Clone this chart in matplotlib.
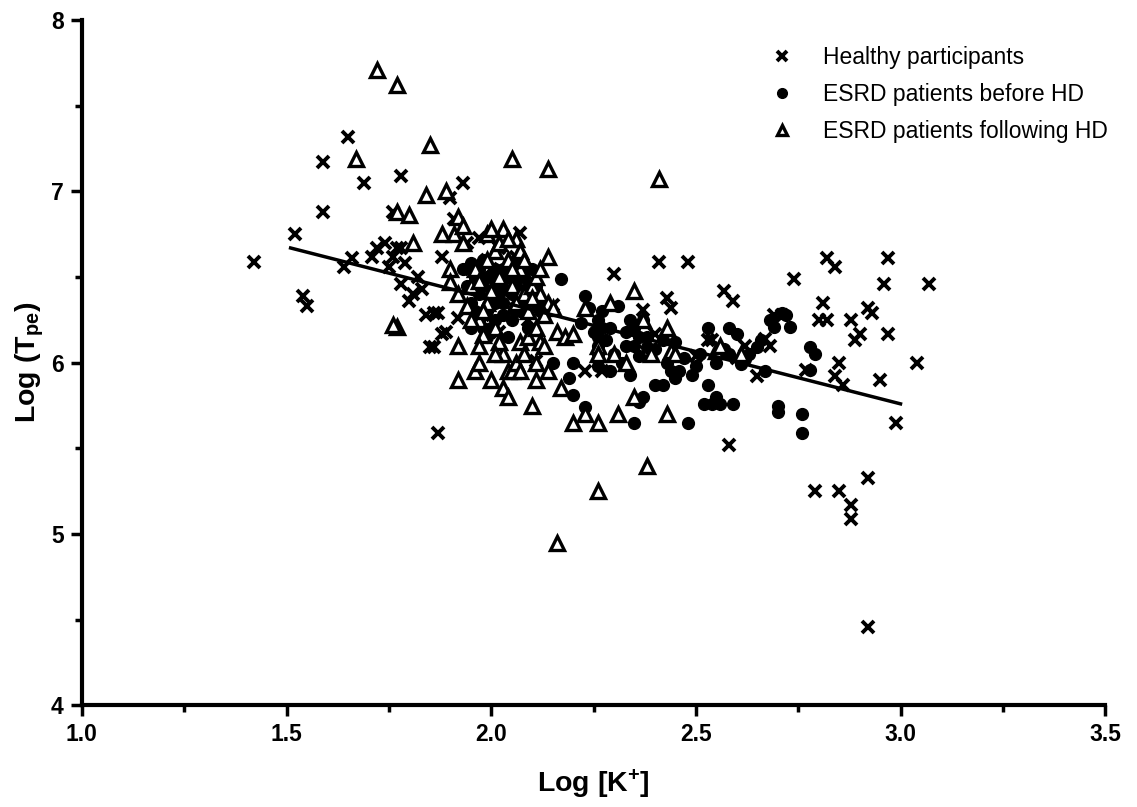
import numpy as np
import matplotlib
matplotlib.use("Agg")
import matplotlib.pyplot as plt

plt.rcParams['font.family'] = ['Liberation Sans', 'DejaVu Sans']
plt.rcParams['mathtext.fontset'] = 'custom'
plt.rcParams['mathtext.bf'] = 'Liberation Sans:bold'
plt.rcParams['mathtext.rm'] = 'Liberation Sans'
plt.rcParams['mathtext.default'] = 'bf'

# healthy participants (x markers)
healthy_x = [1.42, 1.52, 1.54, 1.55, 1.59, 1.59, 1.64, 1.65, 1.66, 1.69, 1.71, 1.74,
             1.75, 1.76, 1.76, 1.77, 1.78, 1.78, 1.78, 1.80, 1.81, 1.82, 1.83, 1.85,
             1.86, 1.86, 1.87, 1.87, 1.88, 1.89, 1.90, 1.91, 1.92, 1.93, 1.94, 1.95,
             1.97, 1.99, 2.00, 2.02, 2.05, 2.06, 2.07, 2.08, 2.10, 2.11, 2.13, 2.15,
             2.23, 2.26, 2.27, 2.30, 2.35, 2.37, 2.40, 2.41, 2.43, 2.44, 2.48, 2.50,
             2.53, 2.54, 2.57, 2.58, 2.59, 2.60, 2.62, 2.65, 2.67, 2.68, 2.69, 2.71,
             2.74, 2.77, 2.79, 2.80, 2.81, 2.82, 2.82, 2.84, 2.84, 2.85, 2.85, 2.86,
             2.88, 2.88, 2.88, 2.89, 2.90, 2.92, 2.92, 2.92, 2.93, 2.95, 2.96, 2.97,
             2.97, 2.99, 3.04, 3.07, 1.72, 1.79, 1.84, 1.88, 1.96, 2.00, 2.03, 2.05,
             1.98, 2.09, 2.02]
healthy_y = [6.59, 6.75, 6.39, 6.33, 7.17, 6.88, 6.56, 7.32, 6.61, 7.05, 6.62, 6.70,
             6.56, 6.62, 6.88, 6.67, 7.09, 6.67, 6.46, 6.36, 6.40, 6.50, 6.43, 6.09,
             6.09, 6.29, 5.59, 6.29, 6.17, 6.18, 6.96, 6.84, 6.26, 7.05, 6.70, 6.55,
             6.73, 6.60, 6.40, 6.67, 6.30, 6.62, 6.76, 6.55, 6.20, 6.01, 6.35, 6.34,
             5.95, 6.18, 5.95, 6.52, 6.21, 6.31, 6.17, 6.59, 6.38, 6.32, 6.59, 6.04,
             6.13, 6.13, 6.42, 5.52, 6.36, 6.03, 6.10, 5.92, 6.14, 6.10, 6.28, 6.28,
             6.49, 5.96, 5.25, 6.25, 6.35, 6.61, 6.25, 6.56, 5.92, 6.00, 5.25, 5.87,
             6.25, 5.17, 5.09, 6.13, 6.17, 6.32, 5.33, 4.46, 6.29, 5.90, 6.46, 6.61,
             6.17, 5.65, 6.00, 6.46, 6.67, 6.58, 6.28, 6.62, 6.45, 6.55, 6.42, 6.50,
             6.28, 6.25, 6.18]

# ESRD patients before HD (filled circles)
before_x = [1.93, 1.94, 1.95, 1.96, 1.97, 1.97, 1.98, 1.99, 2.00, 2.00, 2.01, 2.02,
            2.03, 2.03, 2.04, 2.05, 2.06, 2.07, 2.08, 2.09, 2.10, 2.11, 2.12, 2.13,
            2.15, 2.17, 2.19, 2.20, 2.20, 2.22, 2.23, 2.23, 2.24, 2.25, 2.26, 2.26,
            2.27, 2.28, 2.29, 2.29, 2.30, 2.31, 2.32, 2.33, 2.33, 2.34, 2.35, 2.35,
            2.36, 2.36, 2.37, 2.37, 2.38, 2.38, 2.40, 2.40, 2.42, 2.42, 2.43, 2.44,
            2.45, 2.45, 2.46, 2.47, 2.48, 2.49, 2.50, 2.51, 2.52, 2.53, 2.53, 2.54,
            2.55, 2.55, 2.56, 2.57, 2.58, 2.58, 2.59, 2.60, 2.61, 2.62, 2.63, 2.65,
            2.66, 2.67, 2.68, 2.69, 2.70, 2.70, 2.71, 2.72, 2.73, 2.76, 2.76, 2.78,
            2.78, 2.79, 1.95, 1.96, 1.97, 1.98, 1.98, 1.99, 2.00, 2.01, 2.01, 2.02,
            2.03, 2.04, 2.05, 2.06, 2.07, 2.08, 2.09, 2.11, 1.95, 1.99, 2.26, 2.26,
            2.26, 2.27, 2.35, 2.36, 2.34]
before_y = [6.55, 6.45, 6.35, 6.50, 6.40, 6.25, 6.60, 6.30, 6.50, 6.20, 6.35, 6.45,
            6.55, 6.28, 6.15, 6.40, 6.60, 6.30, 6.50, 6.20, 6.55, 6.45, 6.30, 6.28,
            6.00, 6.49, 5.91, 5.81, 6.00, 6.23, 6.39, 5.74, 6.32, 6.18, 6.10, 6.05,
            6.30, 6.13, 5.95, 6.20, 6.05, 6.33, 6.00, 6.18, 6.10, 5.93, 6.20, 5.65,
            6.04, 5.77, 6.25, 5.80, 6.15, 6.09, 5.87, 6.08, 5.87, 6.13, 6.00, 5.95,
            6.12, 5.91, 5.95, 6.03, 5.65, 5.93, 5.98, 6.05, 5.76, 5.87, 6.20, 5.76,
            6.00, 5.80, 5.76, 6.08, 6.20, 6.05, 5.76, 6.17, 5.99, 6.02, 6.05, 6.09,
            6.13, 5.95, 6.25, 6.21, 5.75, 5.71, 6.29, 6.28, 6.21, 5.70, 5.59, 6.09,
            5.96, 6.05, 6.58, 6.30, 6.55, 6.45, 6.20, 6.50, 6.35, 6.55, 6.25, 6.40,
            6.35, 6.50, 6.25, 6.45, 6.50, 6.35, 6.45, 6.35, 6.20, 6.15, 6.25, 6.15,
            5.98, 6.20, 6.10, 6.15, 6.25]

# ESRD patients following HD (open triangles)
after_x = [1.72, 1.77, 1.67, 1.85, 2.05, 2.14, 2.41, 1.84, 1.89, 1.77, 1.80, 1.92,
           1.91, 1.88, 1.81, 1.77, 1.76, 1.93, 1.90, 1.90, 1.92, 1.94, 1.96, 1.97,
           1.98, 1.99, 2.00, 2.01, 2.02, 2.03, 2.04, 2.05, 2.06, 2.07, 2.07, 2.07,
           2.08, 2.09, 2.10, 2.11, 2.12, 2.14, 2.14, 2.15, 2.16, 2.18, 1.92, 1.92,
           1.96, 1.97, 2.00, 2.03, 2.03, 2.04, 2.05, 2.06, 2.07, 2.04, 2.10, 2.11,
           2.11, 2.17, 2.20, 2.20, 2.23, 2.23, 2.26, 2.26, 2.26, 2.16, 2.29, 2.30,
           2.31, 2.33, 2.35, 2.35, 2.37, 2.38, 2.39, 2.43, 2.43, 2.44, 2.45, 2.55,
           2.56, 2.61, 2.26, 1.95, 1.95, 1.97, 1.99, 2.01, 2.02, 2.07, 2.09, 2.11,
           2.12, 2.13, 1.93, 1.97, 1.99, 2.00, 2.02, 2.04, 2.05, 2.06, 2.08, 2.10,
           2.12, 1.98, 2.01, 2.08, 2.13, 2.14]
after_y = [7.71, 7.62, 7.19, 7.27, 7.19, 7.13, 7.07, 6.98, 7.00, 6.88, 6.86, 6.85,
           6.75, 6.75, 6.70, 6.21, 6.22, 6.70, 6.55, 6.47, 6.40, 6.33, 6.55, 6.25,
           6.16, 6.75, 6.78, 6.65, 6.50, 6.78, 6.60, 6.45, 6.72, 6.65, 6.55, 6.40,
           6.40, 6.30, 6.45, 6.50, 6.40, 6.62, 6.35, 6.32, 6.18, 6.15, 6.10, 5.90,
           5.95, 6.00, 5.90, 6.05, 5.85, 5.95, 5.95, 6.00, 5.95, 5.80, 5.75, 5.90,
           6.00, 5.85, 6.17, 5.65, 6.32, 5.70, 5.65, 6.10, 5.25, 4.95, 6.35, 6.05,
           5.70, 6.00, 6.42, 5.80, 6.25, 5.40, 6.05, 6.20, 5.70, 6.07, 6.05, 6.07,
           6.10, 6.05, 6.05, 6.45, 6.25, 6.10, 6.35, 6.20, 6.12, 6.12, 6.15, 6.20,
           6.12, 6.28, 6.80, 6.48, 6.60, 6.42, 6.70, 6.72, 6.55, 6.35, 6.60, 6.38,
           6.55, 6.30, 6.05, 6.05, 6.10, 5.95]

# regression line end points
fit_x = [1.51, 3.0]
fit_y = [6.67, 5.76]

fig = plt.figure(figsize=(11.37, 8.07), dpi=100)
ax = fig.add_axes([0.072, 0.126, 0.9, 0.849])

ax.plot(healthy_x, healthy_y, linestyle='none', marker='x', markersize=8,
        markeredgewidth=2.8, color='black', label='Healthy participants')
ax.plot(before_x, before_y, linestyle='none', marker='o', markersize=8.5,
        color='black', label='ESRD patients before HD')
ax.plot(after_x, after_y, linestyle='none', marker='^', markersize=10,
        markerfacecolor='white', markeredgecolor='black', markeredgewidth=2.4,
        label='ESRD patients following HD')
ax.plot(fit_x, fit_y, color='black', linewidth=2.5)

ax.set_xlim(1.0, 3.5)
ax.set_ylim(4, 8)
ax.set_xticks([1.0, 1.5, 2.0, 2.5, 3.0, 3.5])
ax.set_xticklabels(['1.0', '1.5', '2.0', '2.5', '3.0', '3.5'])
ax.set_xticks(np.arange(1.25, 3.5, 0.5), minor=True)
ax.set_yticks([4, 5, 6, 7, 8])
ax.set_yticks([4.5, 5.5, 6.5, 7.5], minor=True)

for side in ['top', 'right']:
    ax.spines[side].set_visible(False)
for side in ['left', 'bottom']:
    ax.spines[side].set_linewidth(3)

ax.tick_params(axis='both', which='major', length=8, width=2.5, direction='out',
               labelsize=16.5, pad=5)
ax.tick_params(axis='both', which='minor', length=5, width=2.5, direction='out')
for lab in ax.get_xticklabels() + ax.get_yticklabels():
    lab.set_fontweight('bold')

ax.set_xlabel(r'Log [K$^{+}$]', fontsize=20.5, fontweight='bold', labelpad=15)
ax.set_ylabel(r'Log (T$_{pe}$)', fontsize=20.5, fontweight='bold', labelpad=4)

leg = ax.legend(loc='upper right', frameon=False, fontsize=16.5,
                handletextpad=0.8, labelspacing=0.6, borderaxespad=0.0,
                bbox_to_anchor=(1.012, 0.975))
for h in leg.legend_handles:
    h.set_markersize(7)

fig.savefig('out.png', dpi=100)
